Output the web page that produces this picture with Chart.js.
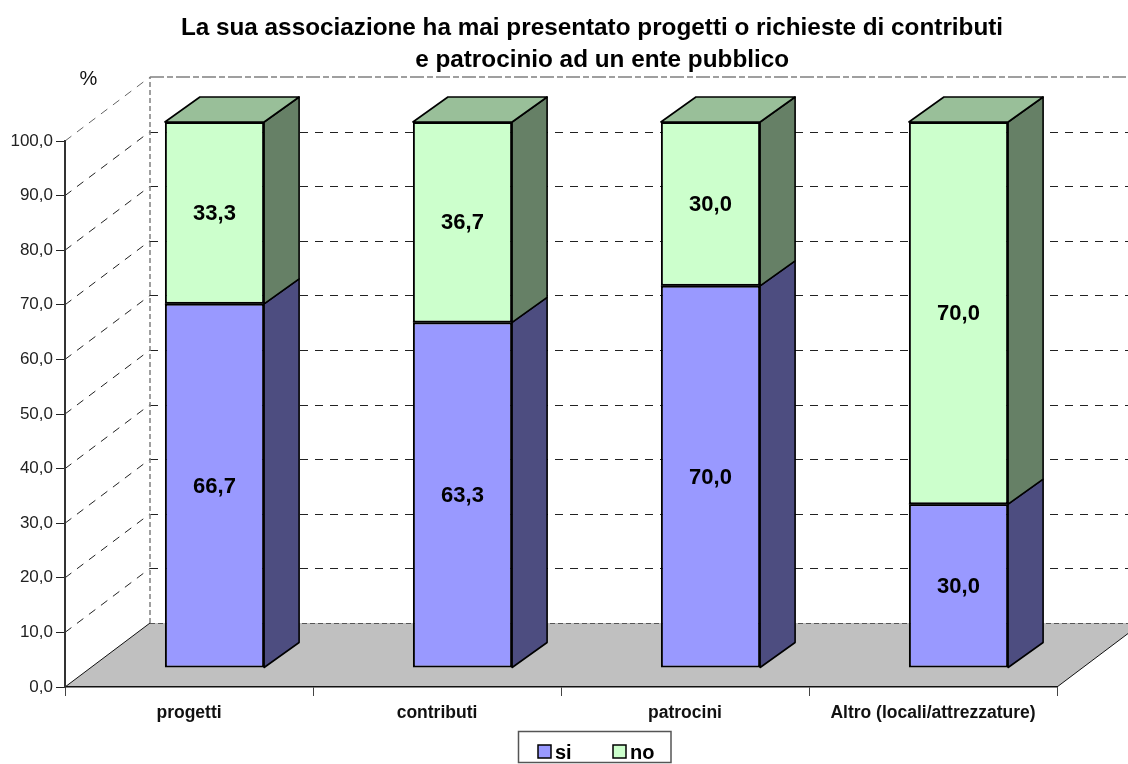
<!DOCTYPE html>
<html>
<head>
<meta charset="utf-8">
<style>
html,body{margin:0;padding:0;background:#fff;overflow:hidden}
canvas{display:block}
</style>
<script src="https://cdn.jsdelivr.net/npm/chart.js@4"></script>
</head>
<body>
<canvas id="c" width="1128" height="764"></canvas>
<script>
const categories = ['progetti','contributi','patrocini','Altro (locali/attrezzature)'];
const siValues = [66.7,63.3,70.0,30.0];
const noValues = [33.3,36.7,30.0,70.0];
const titleLines = ['La sua associazione ha mai presentato progetti o richieste di contributi','   e patrocinio ad un ente pubblico'];
const yUnit = '%';

const FONT = '"Liberation Sans", Arial, sans-serif';
const comma = v => v.toFixed(1).replace('.', ',');
const WALL = {dx:85, dy:-64};      // depth of the whole chart box
const BAR_SHIFT = {dx:25.5, dy:-19};
const BAR_DEPTH = {dx:35, dy:-25};

const box3d = {
  id:'box3d',
  afterLayout(chart){
    const t = chart.titleBlock;
    t.left = 56; t.right = 1128; t.top = 12;
  },
  beforeDraw(chart){
    const {ctx, chartArea:a, scales:{y}} = chart;
    ctx.save();
    ctx.fillStyle = '#fff';
    ctx.fillRect(0,0,chart.width,chart.height);
    const bl = a.left+WALL.dx, by = a.bottom+WALL.dy, br = a.right+WALL.dx, tp = a.top+WALL.dy;
    // floor
    ctx.beginPath();
    ctx.moveTo(a.left,a.bottom); ctx.lineTo(bl,by); ctx.lineTo(br,by); ctx.lineTo(a.right,a.bottom); ctx.closePath();
    ctx.fillStyle = '#c0c0c0'; ctx.fill();
    ctx.strokeStyle = '#111'; ctx.lineWidth = 1;
    ctx.beginPath(); ctx.moveTo(a.left,a.bottom); ctx.lineTo(bl,by); ctx.stroke();
    ctx.beginPath(); ctx.moveTo(a.right,a.bottom); ctx.lineTo(br,by); ctx.stroke();
    // gridlines, diagonal side + back wall
    ctx.setLineDash([8,7]); ctx.strokeStyle = '#222';
    y.ticks.forEach(t=>{
      if(t.value===0) return;
      const p = y.getPixelForValue(t.value);
      ctx.strokeStyle = t.value===100 ? '#666' : '#222';
      ctx.beginPath(); ctx.moveTo(a.left,p); ctx.lineTo(bl,p+WALL.dy); ctx.stroke();
      if(t.value<100){
        ctx.beginPath(); ctx.moveTo(bl,Math.round(p+WALL.dy)+.5); ctx.lineTo(br,Math.round(p+WALL.dy)+.5); ctx.stroke();
      }
    });
    // back wall outline
    ctx.strokeStyle = '#808080'; ctx.lineWidth = 1.5;
    ctx.setLineDash([5,3]);
    ctx.beginPath(); ctx.moveTo(bl,by); ctx.lineTo(bl,tp); ctx.stroke();
    ctx.setLineDash([14,3,6,3]);
    ctx.beginPath(); ctx.moveTo(bl,tp); ctx.lineTo(br,tp); ctx.stroke();
    ctx.setLineDash([5,3]); ctx.strokeStyle = '#555'; ctx.lineWidth = 1;
    ctx.beginPath(); ctx.moveTo(bl,by+.5); ctx.lineTo(br,by+.5); ctx.stroke();
    ctx.restore();
  },
  beforeDatasetsDraw(chart){
    const {ctx} = chart;
    ctx.save();
    ctx.translate(BAR_SHIFT.dx,BAR_SHIFT.dy);
    ctx.lineJoin = 'round'; ctx.lineWidth = 1.6; ctx.strokeStyle = '#000';
    chart.data.datasets.forEach((ds,d)=>{
      chart.getDatasetMeta(d).data.forEach(b=>{
        const l = b.x-b.width/2, r = b.x+b.width/2;
        ctx.beginPath();
        ctx.moveTo(r,b.base); ctx.lineTo(r+BAR_DEPTH.dx,b.base+BAR_DEPTH.dy);
        ctx.lineTo(r+BAR_DEPTH.dx,b.y+BAR_DEPTH.dy); ctx.lineTo(r,b.y); ctx.closePath();
        ctx.fillStyle = ds.sideColor; ctx.fill(); ctx.stroke();
        if(d===chart.data.datasets.length-1){
          ctx.beginPath();
          ctx.moveTo(l,b.y); ctx.lineTo(l+BAR_DEPTH.dx,b.y+BAR_DEPTH.dy);
          ctx.lineTo(r+BAR_DEPTH.dx,b.y+BAR_DEPTH.dy); ctx.lineTo(r,b.y); ctx.closePath();
          ctx.fillStyle = ds.topColor; ctx.fill(); ctx.stroke();
        }
      });
    });
  },
  afterDatasetsDraw(chart){
    const {ctx} = chart;
    // single dark line where the two stacked segments meet
    ctx.strokeStyle = '#000'; ctx.lineWidth = 1.6;
    chart.getDatasetMeta(0).data.forEach(b=>{
      const yy = Math.round(b.y);
      ctx.beginPath(); ctx.moveTo(b.x-b.width/2,yy); ctx.lineTo(b.x+b.width/2,yy); ctx.stroke();
    });
    ctx.font = 'bold 22px '+FONT;
    ctx.fillStyle = '#000'; ctx.textAlign = 'center'; ctx.textBaseline = 'middle';
    chart.data.datasets.forEach((ds,d)=>{
      chart.getDatasetMeta(d).data.forEach((b,i)=>{
        ctx.fillText(comma(ds.data[i]), b.x, (b.y+b.base)/2 + 1);
      });
    });
    ctx.restore();
  },
  afterDraw(chart){
    const {ctx} = chart;
    ctx.save();
    ctx.fillStyle = '#111'; ctx.textBaseline = 'middle'; ctx.textAlign = 'center';
    ctx.font = '20px '+FONT;
    ctx.fillText(yUnit, 88.5, 79);
    // legend
    ctx.strokeStyle = '#555'; ctx.lineWidth = 1.5;
    ctx.strokeRect(518.5,731.5,152.5,31);
    const xs = [538,613];
    chart.data.datasets.forEach((ds,i)=>{
      ctx.fillStyle = ds.backgroundColor; ctx.strokeStyle = '#000'; ctx.lineWidth = 1.5;
      ctx.fillRect(xs[i],745,13,13); ctx.strokeRect(xs[i],745,13,13);
      ctx.fillStyle = '#000'; ctx.textAlign = 'left';
      ctx.font = 'bold 20px '+FONT;
      ctx.fillText(ds.label, xs[i]+17, 753);
    });
    ctx.restore();
  }
};

new Chart(document.getElementById('c'),{
  type:'bar',
  plugins:[box3d],
  data:{
    labels:categories,
    datasets:[
      {label:'si',data:siValues,backgroundColor:'#9999ff',sideColor:'#4d4d80',borderColor:'#000',borderWidth:2,borderSkipped:false,barPercentage:0.4,categoryPercentage:1,clip:false},
      {label:'no',data:noValues,backgroundColor:'#ccffcc',sideColor:'#668066',topColor:'#99bf99',borderColor:'#000',borderWidth:2,borderSkipped:false,barPercentage:0.4,categoryPercentage:1,clip:false}
    ]
  },
  options:{
    responsive:false,
    animation:false,
    layout:{padding:{top:77,right:71,left:0,bottom:0}},
    plugins:{
      legend:{display:false},
      tooltip:{enabled:false},
      title:{display:true,text:titleLines,color:'#000',padding:0,font:{family:FONT,size:24.3,weight:'bold',lineHeight:32/24.3}}
    },
    scales:{
      x:{
        stacked:true,
        afterFit(s){ s.height = 77; },
        grid:{display:true,drawOnChartArea:false,drawTicks:true,tickLength:9,color:'#444'},
        border:{display:true,color:'#111',width:1.5},
        ticks:{maxRotation:0,autoSkip:false,padding:7,color:'#111',font:{family:FONT,size:17.5,weight:'bold'}}
      },
      y:{
        stacked:true,min:0,max:100,
        afterFit(s){ s.width = 65; },
        grid:{display:true,drawOnChartArea:false,drawTicks:true,tickLength:9,color:'#222'},
        border:{display:true,color:'#333',width:2,dash:[6,1]},
        ticks:{stepSize:10,padding:3,color:'#222',font:{family:FONT,size:17},callback:v=>comma(v)}
      }
    }
  }
});
</script>
</body>
</html>
